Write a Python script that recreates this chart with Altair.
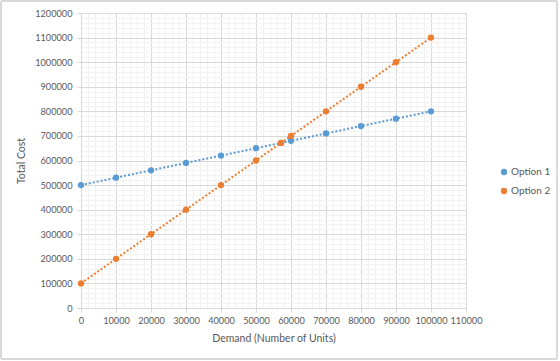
import altair as alt
import pandas as pd

demand = [0, 10000, 20000, 30000, 40000, 50000, 57143, 60000, 70000, 80000, 90000, 100000]
option1 = [500000, 530000, 560000, 590000, 620000, 650000, 671429, 680000, 710000, 740000, 770000, 800000]
option2 = [100000, 200000, 300000, 400000, 500000, 600000, 671429, 700000, 800000, 900000, 1000000, 1100000]
series = ["Option 1", "Option 2"]
colors = ["#5B9BD5", "#ED7D31"]

x_ticks = list(range(0, 110001, 2000))
y_ticks = list(range(0, 1200001, 20000))

rows = []
for name, vals in zip(series, [option1, option2]):
    for d, v in zip(demand, vals):
        rows.append({"Demand": d, "Cost": v, "Series": name})
df = pd.DataFrame(rows)

FONT = "Lato"
TXT = "#595959"

x_axis = alt.Axis(
    title="Demand (Number of Units)",
    values=x_ticks,
    labelExpr="datum.value % 10000 === 0 ? datum.value : ''",
    labelOverlap=False,
    labelFlush=False,
    format="d",
    gridColor={"condition": {"test": "datum.value % 10000 === 0", "value": "#D9D9D9"}, "value": "#F2F2F2"},
    tickColor={"condition": {"test": "datum.value % 10000 === 0", "value": "#D9D9D9"}, "value": "transparent"},
    tickSize=4,
    domainColor="#D9D9D9",
    labelPadding=4,
    titlePadding=8,
)
y_axis = alt.Axis(
    title="Total Cost",
    values=y_ticks,
    labelExpr="datum.value % 100000 === 0 ? datum.value : ''",
    labelOverlap=False,
    labelFlush=False,
    format="d",
    gridColor={"condition": {"test": "datum.value % 100000 === 0", "value": "#D9D9D9"}, "value": "#F2F2F2"},
    tickColor={"condition": {"test": "datum.value % 100000 === 0", "value": "#D9D9D9"}, "value": "transparent"},
    tickSize=4,
    domainColor="#D9D9D9",
    labelPadding=5,
    titlePadding=8,
)

x = alt.X("Demand:Q", scale=alt.Scale(domain=[0, 110000], nice=False), axis=x_axis)
y = alt.Y("Cost:Q", scale=alt.Scale(domain=[0, 1200000], nice=False), axis=y_axis)

lines = alt.Chart(df).mark_line(strokeDash=[2, 2], strokeWidth=2).encode(
    x=x, y=y,
    stroke=alt.Stroke("Series:N", scale=alt.Scale(domain=series, range=colors), legend=None),
    detail="Series:N",
)
points = alt.Chart(df).mark_circle(size=40, opacity=1).encode(
    x=x, y=y,
    color=alt.Color("Series:N", scale=alt.Scale(domain=series, range=colors),
                    legend=alt.Legend(title=None, orient="none", legendX=418, legendY=154,
                                      symbolType="circle", symbolSize=40, rowPadding=9,
                                      labelOffset=2,
                                      labelFont=FONT, labelFontSize=10, labelColor=TXT)),
)
border = alt.Chart(df).mark_rect(fill=None, stroke="#D9D9D9", strokeWidth=1).encode(
    x=alt.value(-80), x2=alt.value(476), y=alt.value(-12), y2=alt.value(346)
)

chart = alt.layer(lines, points, border).resolve_scale(stroke="independent").properties(
    width=385, height=295,
    autosize=alt.AutoSizeParams(type="none"),
    padding={"left": 81, "top": 13, "right": 94, "bottom": 53},
    background="white",
).configure_view(strokeWidth=0).configure_axis(
    labelFont=FONT, labelFontSize=9.2, labelColor=TXT,
    titleFont=FONT, titleFontSize=10.5, titleColor=TXT, titleFontWeight="normal",
)

chart.save("out.html", embed_options={"renderer": "svg", "actions": False})
